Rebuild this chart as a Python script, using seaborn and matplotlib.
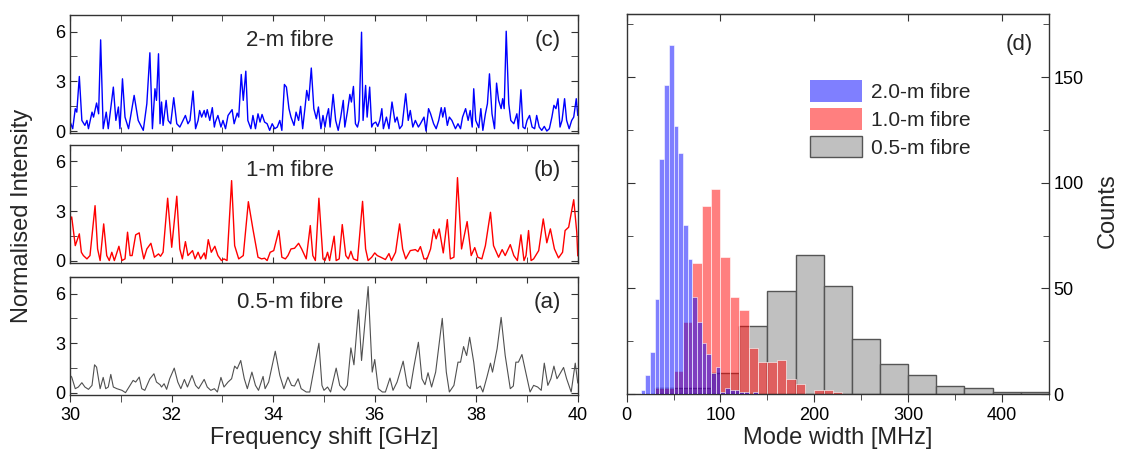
import numpy as np
import pandas as pd
import matplotlib
matplotlib.use("Agg")
import matplotlib.pyplot as plt
from matplotlib.patches import Patch
from matplotlib.ticker import MultipleLocator
import seaborn as sns

# --- spectra: peak / valley vertices ---
freq_2m = [30.00, 30.05, 30.10, 30.13, 30.18, 30.23, 30.29, 30.33, 30.36, 30.43, 30.46, 30.52, 30.56, 30.60,
           30.65, 30.71, 30.75, 30.85, 30.90, 30.95, 30.98, 31.03, 31.08, 31.15, 31.26, 31.34, 31.44, 31.51,
           31.57, 31.62, 31.67, 31.70, 31.74, 31.77, 31.80, 31.83, 31.89, 31.93, 31.98, 32.04, 32.10, 32.16,
           32.27, 32.32, 32.36, 32.42, 32.47, 32.52, 32.55, 32.59, 32.64, 32.67, 32.70, 32.75, 32.80, 32.84,
           32.86, 32.91, 32.97, 33.01, 33.06, 33.11, 33.19, 33.23, 33.29, 33.32, 33.37, 33.41, 33.46, 33.50,
           33.56, 33.60, 33.65, 33.70, 33.74, 33.78, 33.83, 33.88, 33.93, 33.98, 34.03, 34.08, 34.13, 34.17,
           34.22, 34.26, 34.31, 34.35, 34.41, 34.45, 34.50, 34.54, 34.58, 34.63, 34.66, 34.70, 34.75, 34.80,
           34.85, 34.89, 34.94, 34.98, 35.02, 35.05, 35.09, 35.12, 35.18, 35.23, 35.28, 35.33, 35.38, 35.41,
           35.46, 35.51, 35.54, 35.58, 35.62, 35.66, 35.69, 35.74, 35.77, 35.82, 35.85, 35.90, 35.94, 35.97,
           36.02, 36.06, 36.10, 36.14, 36.17, 36.23, 36.28, 36.34, 36.40, 36.44, 36.49, 36.54, 36.61, 36.66,
           36.70, 36.75, 36.80, 36.86, 36.90, 36.97, 37.01, 37.06, 37.10, 37.16, 37.21, 37.26, 37.31, 37.34,
           37.38, 37.43, 37.47, 37.52, 37.59, 37.64, 37.69, 37.73, 37.79, 37.84, 37.88, 37.92, 37.95, 37.99,
           38.05, 38.09, 38.13, 38.18, 38.22, 38.26, 38.31, 38.36, 38.40, 38.44, 38.49, 38.52, 38.55, 38.59,
           38.64, 38.68, 38.74, 38.80, 38.83, 38.88, 38.92, 38.96, 39.00, 39.05, 39.10, 39.15, 39.19, 39.24,
           39.29, 39.34, 39.39, 39.44, 39.49, 39.53, 39.57, 39.61, 39.65, 39.69, 39.74, 39.78, 39.83, 39.88,
           39.92, 39.97, 40.00]
int_2m = [0.54, 0.14, 1.35, 1.14, 3.29, 0.64, 0.34, 0.64, 0.14, 1.14, 0.84, 1.69, 1.04, 5.50,
          0.14, 1.14, 0.14, 2.65, 0.64, 1.45, 0.14, 3.15, 0.84, 0.14, 2.15, 0.64, 0.04, 1.65,
          4.72, 0.14, 2.55, 1.85, 4.66, 0.44, 1.75, 0.34, 1.85, 0.64, 0.44, 2.01, 0.44, 0.24,
          0.94, 0.44, 0.64, 2.41, 0.14, 0.64, 1.24, 0.84, 1.24, 0.84, 1.29, 0.64, 1.41, 0.24,
          0.54, 0.94, 0.24, 0.64, 0.14, 0.94, 1.29, 0.44, 1.08, 0.84, 3.41, 1.85, 3.61, 0.64,
          0.14, 0.94, 0.14, 1.04, 0.54, 1.00, 0.54, 0.44, 0.04, 0.44, 0.14, 0.24, 0.64, 0.04,
          2.81, 2.65, 1.35, 0.84, 0.34, 1.14, 0.64, 1.49, 0.14, 1.53, 2.45, 1.85, 3.80, 1.35,
          0.74, 1.45, 0.14, 0.94, 0.24, 0.84, 1.35, 0.24, 2.21, 0.64, 0.04, 0.84, 1.85, 0.24,
          1.14, 2.21, 1.75, 2.69, 0.44, 0.24, 0.64, 5.96, 0.64, 2.75, 0.84, 2.65, 0.24, 0.44,
          0.54, 0.28, 0.64, 1.35, 0.14, 0.84, 0.14, 1.75, 0.54, 0.84, 0.14, 0.34, 2.25, 0.64,
          1.24, 0.24, 0.64, 0.24, 0.44, 0.84, 0.00, 1.35, 1.04, 0.44, 0.14, 0.64, 1.41, 0.84,
          1.41, 0.34, 0.84, 0.64, 0.14, 0.44, 0.14, 0.84, 1.35, 0.64, 1.24, 0.24, 2.55, 0.64,
          0.20, 1.35, 0.04, 1.04, 1.65, 3.45, 1.04, 0.14, 2.89, 1.85, 1.35, 1.95, 1.35, 6.02,
          1.65, 0.64, 0.44, 1.04, 0.14, 2.49, 0.24, 0.14, 0.64, 0.94, 0.24, 0.14, 0.94, 0.24,
          0.04, 0.28, 0.00, 0.14, 0.84, 1.55, 1.35, 1.95, 0.24, 0.64, 1.95, 0.64, 0.14, 0.64,
          0.84, 1.95, 0.94]

freq_1m = [30.00, 30.03, 30.10, 30.18, 30.22, 30.26, 30.33, 30.39, 30.49, 30.54, 30.59, 30.66, 30.72, 30.77,
           30.82, 30.87, 30.96, 31.02, 31.08, 31.13, 31.18, 31.22, 31.29, 31.36, 31.41, 31.45, 31.51, 31.59,
           31.66, 31.74, 31.78, 31.83, 31.92, 32.00, 32.10, 32.16, 32.21, 32.27, 32.32, 32.41, 32.46, 32.52,
           32.57, 32.64, 32.67, 32.72, 32.78, 32.85, 32.91, 32.98, 33.03, 33.09, 33.18, 33.24, 33.32, 33.41,
           33.51, 33.60, 33.70, 33.77, 33.83, 33.88, 33.94, 34.01, 34.11, 34.17, 34.24, 34.29, 34.35, 34.42,
           34.50, 34.56, 34.65, 34.73, 34.78, 34.83, 34.90, 34.98, 35.02, 35.07, 35.11, 35.20, 35.24, 35.30,
           35.36, 35.43, 35.48, 35.53, 35.58, 35.66, 35.76, 35.82, 35.87, 35.94, 36.00, 36.05, 36.12, 36.21,
           36.28, 36.33, 36.41, 36.49, 36.55, 36.61, 36.70, 36.80, 36.85, 36.90, 36.97, 37.03, 37.10, 37.16,
           37.21, 37.27, 37.35, 37.43, 37.49, 37.56, 37.63, 37.71, 37.82, 37.90, 37.97, 38.03, 38.11, 38.18,
           38.28, 38.34, 38.44, 38.51, 38.57, 38.67, 38.74, 38.81, 38.88, 38.94, 38.98, 39.03, 39.08, 39.13,
           39.23, 39.32, 39.39, 39.46, 39.54, 39.62, 39.70, 39.75, 39.82, 39.92, 39.98, 40.00]
int_1m = [2.45, 2.65, 0.92, 1.63, 0.52, 0.32, 0.12, 0.32, 3.33, 0.72, 0.02, 2.23, 0.32, 0.02,
          0.52, 0.02, 0.88, 0.02, 0.12, 1.73, 0.32, 0.32, 1.57, 1.69, 0.72, 0.12, 0.72, 1.06,
          0.22, 0.42, 0.28, 0.52, 3.78, 0.82, 3.90, 0.72, 0.12, 1.16, 0.32, 0.62, 0.12, 0.52,
          0.12, 0.48, 0.12, 1.28, 0.52, 0.88, 0.32, 0.02, 0.12, 0.02, 4.84, 0.92, 0.12, 0.32,
          3.57, 1.92, 0.22, 0.12, 0.16, 0.02, 0.52, 0.62, 1.83, 0.22, 0.12, 0.32, 0.72, 0.76,
          1.06, 0.72, 0.12, 2.13, 0.32, 0.02, 3.78, 0.12, 0.02, 0.52, 0.02, 1.49, 0.02, 0.12,
          2.19, 0.32, 0.12, 0.58, 0.12, 0.02, 3.59, 0.72, 0.02, 0.22, 0.48, 0.32, 0.22, 0.08,
          0.44, 0.02, 0.52, 2.23, 0.72, 0.12, 0.62, 0.68, 0.56, 0.86, 0.12, 0.12, 0.72, 1.89,
          1.33, 1.93, 0.48, 2.49, 0.12, 0.22, 5.02, 0.72, 2.37, 0.32, 0.80, 0.22, 0.12, 0.92,
          2.93, 0.92, 0.22, 0.68, 0.32, 0.98, 0.32, 0.02, 1.57, 0.02, 0.32, 1.83, 0.02, 0.12,
          0.62, 2.53, 1.09, 1.93, 0.72, 0.18, 0.52, 1.83, 2.03, 3.69, 1.73, 0.30]

freq_05m = [30.00, 30.03, 30.10, 30.16, 30.23, 30.29, 30.36, 30.43, 30.48, 30.52, 30.59, 30.65, 30.70, 30.75,
            30.80, 30.85, 30.92, 31.02, 31.09, 31.18, 31.24, 31.29, 31.36, 31.41, 31.47, 31.57, 31.65, 31.70,
            31.77, 31.80, 31.85, 31.90, 31.96, 32.05, 32.12, 32.18, 32.25, 32.31, 32.40, 32.47, 32.53, 32.64,
            32.70, 32.77, 32.84, 32.90, 32.97, 33.03, 33.11, 33.18, 33.24, 33.29, 33.36, 33.43, 33.49, 33.58,
            33.65, 33.71, 33.80, 33.84, 33.91, 34.04, 34.13, 34.21, 34.29, 34.36, 34.42, 34.49, 34.55, 34.65,
            34.72, 34.81, 34.90, 34.96, 35.00, 35.07, 35.13, 35.24, 35.31, 35.40, 35.46, 35.53, 35.59, 35.68,
            35.74, 35.87, 35.95, 36.00, 36.07, 36.15, 36.21, 36.30, 36.36, 36.44, 36.56, 36.64, 36.70, 36.77,
            36.86, 36.93, 36.99, 37.05, 37.12, 37.20, 37.33, 37.41, 37.47, 37.56, 37.64, 37.69, 37.75, 37.81,
            37.87, 37.95, 38.01, 38.08, 38.13, 38.21, 38.28, 38.32, 38.41, 38.49, 38.57, 38.67, 38.73, 38.78,
            38.83, 38.90, 38.96, 39.06, 39.13, 39.21, 39.28, 39.34, 39.41, 39.47, 39.53, 39.59, 39.63, 39.72,
            39.78, 39.87, 39.95, 40.00]
int_05m = [1.06, 0.96, 0.26, 0.36, 0.62, 0.36, 0.22, 0.46, 1.70, 1.56, 0.26, 0.94, 0.26, 0.36,
           1.12, 0.36, 0.26, 0.16, 0.02, 0.46, 0.76, 0.66, 0.96, 0.26, 0.16, 0.86, 1.16, 0.66,
           0.50, 0.36, 0.56, 0.22, 0.86, 1.50, 0.66, 0.26, 0.82, 0.36, 1.06, 0.46, 0.26, 0.82,
           0.36, 0.16, 0.26, 0.06, 0.94, 0.36, 0.66, 0.86, 1.62, 1.46, 1.96, 0.86, 0.26, 1.26,
           0.46, 0.16, 1.00, 0.26, 0.66, 2.52, 1.06, 0.26, 0.96, 0.46, 0.42, 0.86, 0.26, 0.06,
           0.06, 1.56, 3.00, 0.46, 0.16, 0.36, 0.06, 1.50, 0.46, 0.16, 0.46, 2.72, 1.70, 5.02,
           1.96, 6.42, 1.26, 2.02, 0.26, 0.06, 0.06, 0.90, 0.16, 0.66, 1.92, 0.46, 0.26, 1.56,
           3.06, 0.86, 0.50, 1.22, 0.36, 1.26, 4.50, 1.26, 0.06, 0.46, 1.86, 1.86, 2.80, 2.26,
           3.36, 1.86, 0.26, 0.42, 0.06, 0.96, 1.80, 1.26, 2.66, 4.56, 2.26, 0.26, 0.42, 1.86,
           1.86, 2.32, 1.46, 0.06, 0.46, 0.36, 0.16, 1.80, 0.46, 0.86, 1.62, 0.86, 1.06, 1.54,
           0.86, 0.06, 1.80, 0.60]

# --- mode width histograms (counts per bin) ---
blue_start, blue_width = 15, 5
blue_counts = [2, 9, 20, 45, 111, 146, 165, 127, 114, 80, 64, 46, 34, 24, 19, 10, 13, 1, 3, 2, 2, 1, 1, 0, 1]
red_start, red_width = 30, 10
red_counts = [3, 3, 11, 34, 62, 89, 97, 65, 46, 40, 22, 15, 15, 16, 7, 5, 0, 2, 2, 1]
grey_start, grey_width = 30, 30
grey_counts = [3, 3, 10, 32, 49, 66, 51, 26, 14, 9, 4, 3, 1, 1]

sns.set_style("ticks")
plt.rcParams["font.family"] = ["Liberation Sans", "DejaVu Sans"]
plt.rcParams["axes.edgecolor"] = "#333333"
plt.rcParams["xtick.color"] = "#333333"
plt.rcParams["ytick.color"] = "#333333"
plt.rcParams["xtick.labelcolor"] = "black"
plt.rcParams["ytick.labelcolor"] = "black"

fig = plt.figure(figsize=(11.23, 4.54), dpi=100)

left, width = 0.0625, 0.452
panel_h = 0.26
bottoms = [0.707, 0.421, 0.130]
spectra = [(freq_2m, int_2m, "#0000ff", "2-m fibre", "(c)"),
           (freq_1m, int_1m, "#ff0000", "1-m fibre", "(b)"),
           (freq_05m, int_05m, "#505050", "0.5-m fibre", "(a)")]

axes_left = []
for i, (fx, fy, col, name, tag) in enumerate(spectra):
    ax = fig.add_axes([left, bottoms[i], width, panel_h])
    df = pd.DataFrame({"f": fx, "I": fy})
    sns.lineplot(data=df, x="f", y="I", ax=ax, color=col, linewidth=1.0 if i < 2 else 0.8,
                 estimator=None, sort=False)
    ax.set_xlim(30, 40)
    ax.set_ylim(-0.12, 7.0)
    ax.xaxis.set_major_locator(MultipleLocator(2))
    ax.xaxis.set_minor_locator(MultipleLocator(1))
    ax.yaxis.set_major_locator(MultipleLocator(3))
    ax.yaxis.set_minor_locator(MultipleLocator(1.5))
    ax.set_xlabel("")
    ax.set_ylabel("")
    ax.tick_params(axis="y", which="both", direction="in", left=True, right=True, labelsize=13)
    ax.tick_params(axis="y", which="major", length=5)
    ax.tick_params(axis="y", which="minor", length=5)
    if i < 2:
        ax.tick_params(axis="x", which="both", direction="in", top=True, bottom=True,
                       labelbottom=False, length=4)
    else:
        ax.tick_params(axis="x", which="both", direction="out", top=False, length=5, labelsize=13)
        sec = ax.secondary_xaxis("top")
        sec.xaxis.set_major_locator(MultipleLocator(1))
        sec.tick_params(direction="in", length=4, labeltop=False)
        ax.set_xlabel("Frequency shift [GHz]", fontsize=17, labelpad=2)
    for sp in ax.spines.values():
        sp.set_visible(True)
        sp.set_linewidth(1.0)
    ax.text(0.433, 0.78, name, transform=ax.transAxes, ha="center", va="center", fontsize=16)
    ax.text(0.94, 0.78, tag, transform=ax.transAxes, ha="center", va="center", fontsize=16)
    axes_left.append(ax)

fig.text(0.02, 0.525, "Normalised Intensity", rotation=90, ha="center", va="center", fontsize=17)

# --- histogram panel ---
axh = fig.add_axes([0.558, 0.132, 0.376, 0.838])


def draw_hist(counts, start, w, color, alpha, edge, lw, z):
    edges = [start + w * k for k in range(len(counts) + 1)]
    hist_df = pd.DataFrame({"width": [e + w / 2 for e in edges[:-1]], "n": counts})
    sns.histplot(data=hist_df, x="width", weights="n", bins=edges, ax=axh, color=color,
                 alpha=alpha, edgecolor=edge, linewidth=lw, zorder=z)


draw_hist(grey_counts, grey_start, grey_width, "#c0c0c0", 1.0, "#555555", 1.0, 1)
draw_hist(red_counts, red_start, red_width, "#ff0000", 0.5, "#ffffff", 0.4, 2)
draw_hist(blue_counts, blue_start, blue_width, "#0000ff", 0.5, "#ffffff", 0.4, 3)

axh.set_xlim(0, 450)
axh.set_ylim(0, 180)
axh.xaxis.set_major_locator(MultipleLocator(100))
axh.xaxis.set_minor_locator(MultipleLocator(50))
axh.yaxis.set_major_locator(MultipleLocator(50))
axh.yaxis.set_minor_locator(MultipleLocator(25))
axh.tick_params(axis="x", which="both", direction="out", top=False, labelsize=13)
axh.tick_params(axis="x", which="major", length=6)
axh.tick_params(axis="x", which="minor", length=4)
axh.tick_params(axis="y", which="both", direction="in", left=True, right=True,
                labelleft=False, labelright=True, labelsize=13)
axh.tick_params(axis="y", which="major", length=6)
axh.tick_params(axis="y", which="minor", length=4)
sech = axh.secondary_xaxis("top")
sech.xaxis.set_major_locator(MultipleLocator(100))
sech.tick_params(direction="in", length=5, labeltop=False)
for sp in axh.spines.values():
    sp.set_visible(True)
    sp.set_linewidth(1.0)
axh.set_xlabel("Mode width [MHz]", fontsize=17, labelpad=2)
axh.set_ylabel("")
fig.text(0.986, 0.535, "Counts", rotation=90, ha="center", va="center", fontsize=17)
axh.text(0.93, 0.92, "(d)", transform=axh.transAxes, ha="center", va="center", fontsize=16)

handles = [Patch(facecolor="#0000ff", alpha=0.5, edgecolor="none"),
           Patch(facecolor="#ff0000", alpha=0.5, edgecolor="none"),
           Patch(facecolor="#c0c0c0", edgecolor="#555555", linewidth=1.0)]
labels = ["2.0-m fibre", "1.0-m fibre", "0.5-m fibre"]
axh.legend(handles, labels, loc="upper left", bbox_to_anchor=(0.435, 0.825), frameon=False,
           fontsize=15, handlelength=2.5, handleheight=1.2, labelspacing=0.3,
           handletextpad=0.4, borderpad=0, borderaxespad=0)

fig.savefig("out.png", dpi=100)
